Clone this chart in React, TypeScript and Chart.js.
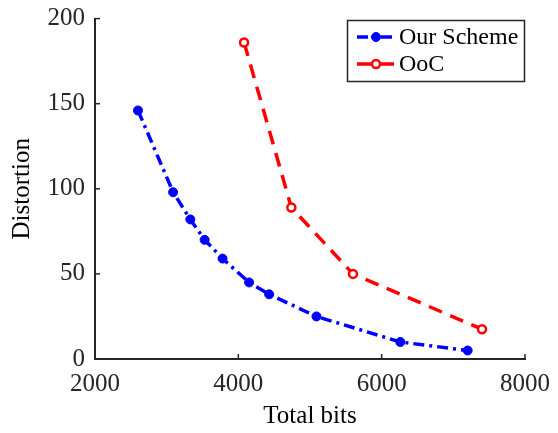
import React, { useEffect, useRef } from "react";
import { Chart, registerables } from "chart.js";

Chart.register(...registerables);

const oursBits = [2600, 3090, 3330, 3530, 3780, 4150, 4430, 5090, 6260, 7200];
const oursDist = [146, 98, 82, 70, 59, 45, 38, 25, 10, 5];
const oocBits = [4080, 4740, 5600, 7400];
const oocDist = [186, 89, 50, 17.5];
const seriesNames = ["Our Scheme", "OoC"];
const xTitle = "Total bits";
const yTitle = "Distortion";

const FONT = "'Liberation Serif', 'Times New Roman', serif";
const AXIS = "#262626";

const inwardTicks = {
  id: "inwardTicks",
  afterDatasetsDraw(chart: any) {
    const { ctx, chartArea, scales } = chart;
    ctx.save();
    ctx.strokeStyle = AXIS;
    ctx.lineWidth = 1.5;
    const len = 5;
    scales.x.ticks.forEach((t: any) => {
      const px = scales.x.getPixelForValue(t.value);
      ctx.beginPath();
      ctx.moveTo(px, chartArea.bottom);
      ctx.lineTo(px, chartArea.bottom - len);
      ctx.stroke();
    });
    scales.y.ticks.forEach((t: any) => {
      const py = scales.y.getPixelForValue(t.value);
      ctx.beginPath();
      ctx.moveTo(chartArea.left, py);
      ctx.lineTo(chartArea.left + len, py);
      ctx.stroke();
    });
    ctx.restore();
  },
};

const boxLegend = {
  id: "boxLegend",
  afterDraw(chart: any) {
    const { ctx } = chart;
    const bx = 347, by = 20, bw = 177, bh = 61;
    ctx.save();
    ctx.fillStyle = "#fff";
    ctx.fillRect(bx, by, bw, bh);
    ctx.strokeStyle = AXIS;
    ctx.lineWidth = 1.5;
    ctx.strokeRect(bx + 0.5, by + 0.5, bw, bh);
    chart.data.datasets.forEach((ds: any, i: number) => {
      const cy = by + 17 + i * 27;
      ctx.strokeStyle = ds.borderColor;
      ctx.lineWidth = ds.borderWidth;
      ctx.setLineDash(ds.borderDash || []);
      ctx.beginPath();
      ctx.moveTo(357, cy);
      ctx.lineTo(396, cy);
      ctx.stroke();
      ctx.setLineDash([]);
      ctx.beginPath();
      ctx.arc(376, cy, ds.pointRadius, 0, Math.PI * 2);
      ctx.fillStyle = ds.pointBackgroundColor;
      ctx.fill();
      ctx.lineWidth = ds.pointBorderWidth;
      ctx.strokeStyle = ds.pointBorderColor;
      ctx.stroke();
      ctx.fillStyle = "#000";
      ctx.font = `24px ${FONT}`;
      ctx.textBaseline = "middle";
      ctx.textAlign = "left";
      ctx.fillText(ds.label, 399, cy + 1);
    });
    ctx.restore();
  },
};

export default function App() {
  const ref = useRef<HTMLCanvasElement>(null);
  useEffect(() => {
    const chart = new Chart(ref.current as HTMLCanvasElement, {
      type: "scatter",
      data: {
        datasets: [
          {
            label: seriesNames[0],
            data: oursBits.map((x, i) => ({ x, y: oursDist[i] })),
            showLine: true,
            borderColor: "#0000ff",
            borderWidth: 3.5,
            borderDash: [11, 5, 3, 5],
            pointRadius: 4.5,
            pointBackgroundColor: "#0000ff",
            pointBorderColor: "#0000ff",
            pointBorderWidth: 1,
          },
          {
            label: seriesNames[1],
            data: oocBits.map((x, i) => ({ x, y: oocDist[i] })),
            showLine: true,
            borderColor: "#ff0000",
            borderWidth: 3.5,
            borderDash: [14, 9],
            pointRadius: 4,
            pointBackgroundColor: "#ffffff",
            pointBorderColor: "#ff0000",
            pointBorderWidth: 2.5,
          },
        ],
      },
      options: {
        animation: false,
        responsive: false,
        devicePixelRatio: 1,
        layout: { padding: { top: 18.6, right: 33, left: 0, bottom: 0 } },
        plugins: { legend: { display: false }, tooltip: { enabled: false } },
        scales: {
          x: {
            type: "linear",
            min: 2000,
            max: 8000,
            ticks: {
              stepSize: 2000,
              color: AXIS,
              font: { family: FONT, size: 25 },
              padding: 10,
              maxRotation: 0,
              callback: (v: any) => String(v),
            },
            grid: { display: false, drawTicks: false },
            border: { display: true, color: AXIS, width: 2 },
            title: { display: true, text: xTitle, color: "#000", font: { family: FONT, size: 25 }, padding: { top: 0, bottom: 2 } },
            afterFit: (s: any) => {
              s.height = 74;
              s.paddingLeft = 0;
              s.paddingRight = 0;
            },
          },
          y: {
            type: "linear",
            min: 0,
            max: 200,
            ticks: { stepSize: 50, color: AXIS, font: { family: FONT, size: 25 }, padding: 10 },
            grid: { display: false, drawTicks: false },
            border: { display: true, color: AXIS, width: 2 },
            title: { display: true, text: yTitle, color: "#000", font: { family: FONT, size: 25 }, padding: { top: 7, bottom: 0 } },
            afterFit: (s: any) => {
              s.width = 95;
              s.paddingTop = 0;
              s.paddingBottom = 0;
            },
          },
        },
      },
      plugins: [inwardTicks, boxLegend],
    } as any);
    return () => chart.destroy();
  }, []);
  return (
    <div style={{ position: "absolute", left: 0, top: 0, width: 558, height: 433, background: "#fff" }}>
      <canvas ref={ref} width={558} height={433} style={{ display: "block", width: 558, height: 433 }} />
    </div>
  );
}
